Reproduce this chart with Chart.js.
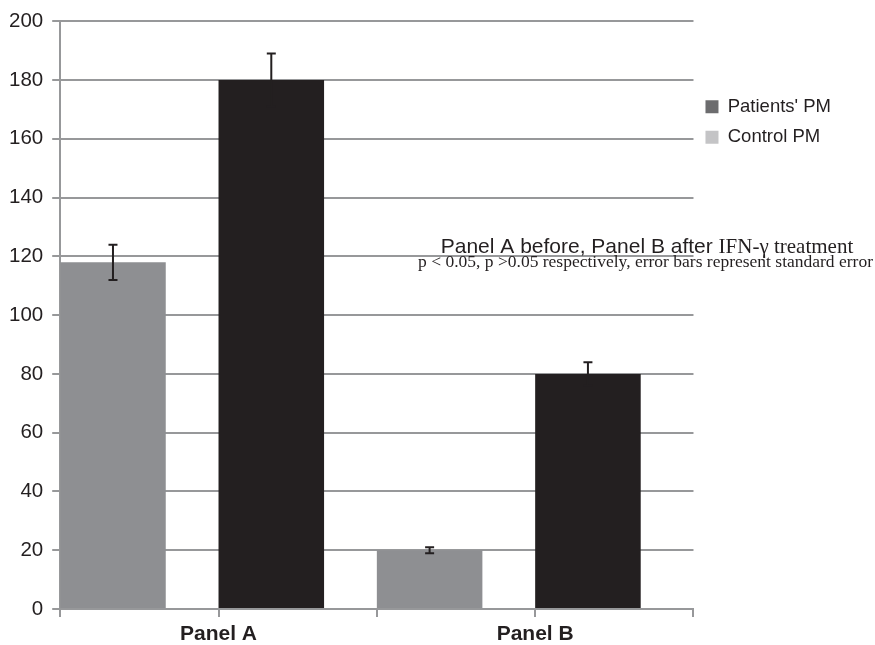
<!DOCTYPE html>
<html>
<head>
<meta charset="utf-8">
<script src="https://cdn.jsdelivr.net/npm/chart.js@4.4.1/dist/chart.umd.min.js"></script>
<style>
  html, body { margin: 0; padding: 0; background: #fff; }
  #wrap { width: 875px; height: 645px; position: relative; }
</style>
</head>
<body>
<div id="wrap"><canvas id="chart"></canvas></div>
<script>
// PM counts, patients vs controls, before/after IFN-γ
const categories = ['Panel A', 'Panel B'];
const controlValues = [118, 20];
const controlErrors = [6, 1];
const patientValues = [180, 80];
const patientErrors = [9, 4];
const yTicks = [0, 20, 40, 60, 80, 100, 120, 140, 160, 180, 200];

const noteLine1 = ['Panel A before, Panel B after ', 'IFN-γ treatment'];
const noteLine2 = 'p < 0.05, p >0.05 respectively, error bars represent standard error';

const INK = '#231f20';
const GRID = '#97989a';
const SANS = "Arial, 'Liberation Sans', sans-serif";
const SERIF = "'Times New Roman', 'Liberation Serif', serif";

Chart.defaults.font.family = SANS;
Chart.defaults.color = INK;

// legend swatches are lighter than the bars themselves
const legendSwatch = ['#c4c4c6', '#6c6c6e'];
const legendOrder = [1, 0];

// whiskers for standard error, drawn on top of the bars
const errorBars = {
    id: 'errorBars',
    afterDatasetsDraw(chart) {
        const { ctx } = chart;
        const y = chart.scales.y;
        ctx.save();
        ctx.strokeStyle = INK;
        ctx.lineWidth = 2;
        chart.data.datasets.forEach((ds, i) => {
            chart.getDatasetMeta(i).data.forEach((bar, j) => {
                const top = y.getPixelForValue(ds.data[j] + ds.errors[j]);
                const bottom = y.getPixelForValue(ds.data[j] - ds.errors[j]);
                const half = 4.5;
                ctx.beginPath();
                ctx.moveTo(bar.x, top); ctx.lineTo(bar.x, bottom);
                ctx.moveTo(bar.x - half, top); ctx.lineTo(bar.x + half, top);
                ctx.moveTo(bar.x - half, bottom); ctx.lineTo(bar.x + half, bottom);
                ctx.stroke();
            });
        });
        ctx.restore();
    }
};

// two-line note to the right of the bars
const note = {
    id: 'note',
    afterDraw(chart) {
        const { ctx } = chart;
        const cx = 647;
        ctx.save();
        ctx.fillStyle = INK;
        ctx.textBaseline = 'alphabetic';

        const fontA = '21px ' + SANS;
        const fontB = '21px ' + SERIF;
        ctx.font = fontA;
        const wA = ctx.measureText(noteLine1[0]).width;
        ctx.font = fontB;
        const wB = ctx.measureText(noteLine1[1]).width;
        const x = cx - (wA + wB) / 2;
        ctx.textAlign = 'left';
        ctx.font = fontA;
        ctx.fillText(noteLine1[0], x, 253);
        ctx.font = fontB;
        ctx.fillText(noteLine1[1], x + wA, 253);

        ctx.font = '17.5px ' + SERIF;
        ctx.textAlign = 'center';
        ctx.fillText(noteLine2, 645.5, 267);
        ctx.restore();
    }
};

new Chart(document.getElementById('chart'), {
    type: 'bar',
    data: {
        labels: categories,
        datasets: [
            {
                label: 'Control PM',
                data: controlValues,
                errors: controlErrors,
                backgroundColor: '#8e8f92',
                // bars hug the left edge of each half-category
                categoryPercentage: 4 / 3,
                barPercentage: 0.5
            },
            {
                label: "Patients' PM",
                data: patientValues,
                errors: patientErrors,
                backgroundColor: INK,
                categoryPercentage: 2 / 3,
                barPercentage: 1
            }
        ]
    },
    options: {
        responsive: true,
        maintainAspectRatio: false,
        animation: false,
        layout: { padding: { left: 0, right: 34, top: 21, bottom: -6 } },
        plugins: {
            tooltip: { enabled: false },
            legend: {
                position: 'right',
                align: 'start',
                title: { display: true, text: '', padding: { top: 50, bottom: 0 } },
                labels: {
                    boxWidth: 13,
                    boxHeight: 13,
                    padding: 12,
                    color: INK,
                    font: { size: 18.5 },
                    generateLabels: chart => legendOrder.map(i => ({
                        text: chart.data.datasets[i].label,
                        fillStyle: legendSwatch[i],
                        strokeStyle: legendSwatch[i],
                        lineWidth: 0,
                        hidden: false,
                        datasetIndex: i
                    }))
                }
            }
        },
        scales: {
            x: {
                offset: true,
                grid: { offset: true, drawOnChartArea: false, color: GRID, lineWidth: 2, tickLength: 8 },
                border: { color: GRID, width: 2 },
                ticks: { font: { size: 21, weight: 'bold', lineHeight: 1 }, color: INK, padding: 6.5 }
            },
            // extra tick marks under each category label
            xMarks: {
                type: 'category',
                labels: categories,
                position: { y: 0 },
                offset: true,
                grid: { offset: false, drawOnChartArea: false, color: GRID, lineWidth: 2, tickLength: 8 },
                border: { display: false },
                ticks: { display: false }
            },
            y: {
                min: 0,
                max: 200,
                afterBuildTicks: axis => { axis.ticks = yTicks.map(v => ({ value: v })); },
                grid: { color: GRID, lineWidth: 2, tickLength: 8 },
                border: { color: GRID, width: 2 },
                ticks: { font: { size: 20.5 }, color: INK, padding: 9 }
            }
        }
    },
    plugins: [errorBars, note]
});
</script>
</body>
</html>
